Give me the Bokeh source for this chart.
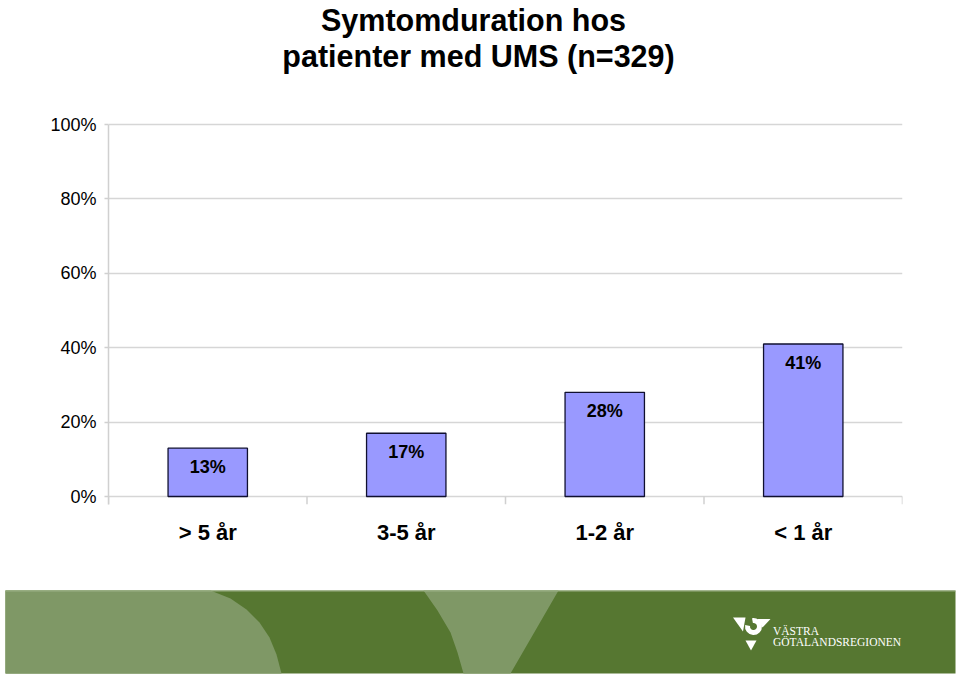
from bokeh.plotting import figure
from bokeh.layouts import column
from bokeh.models import Range1d, FixedTicker, NumeralTickFormatter
from bokeh.core.properties import value
from bokeh.embed import file_html
from bokeh.resources import INLINE

# ---- data ----
categories = ["> 5 år", "3-5 år", "1-2 år", "< 1 år"]
shares = [0.13, 0.17, 0.28, 0.41]
share_labels = ["13%", "17%", "28%", "41%"]
y_ticks = [0.0, 0.2, 0.4, 0.6, 0.8, 1.0]
title_lines = ["Symtomduration hos", "patienter med UMS (n=329)"]
logo_lines = ["VÄSTRA", "GÖTALANDSREGIONEN"]

FONT = value("Liberation Sans")
n = len(categories)
xs = [i + 0.5 for i in range(n)]

# ---- geometry of the chart area (pixels) ----
W, H = 959, 580
LEFT, RIGHT, BOTTOM = 108, 57, 76
zero_px, full_px = 496, 124
ppu = zero_px - full_px            # pixels per 100 %
frame_h = H - BOTTOM
y_start = -(frame_h - zero_px) / ppu
y_end = zero_px / ppu

def py(pix):
    return (zero_px - pix) / ppu

frame_w = W - LEFT - RIGHT
def px(pix):
    return (pix - LEFT) / frame_w * n

p = figure(width=W, height=H, output_backend="svg", toolbar_location=None,
           title=None,
           x_range=Range1d(0, n), y_range=Range1d(y_start, y_end),
           min_border_left=LEFT, min_border_right=RIGHT,
           min_border_top=0, min_border_bottom=BOTTOM)
p.frame_align = False
p.outline_line_color = None
p.background_fill_color = "white"
p.border_fill_color = "white"
p.xgrid.visible = False
p.ygrid.ticker = FixedTicker(ticks=y_ticks)
p.ygrid.grid_line_color = "#d6d6d6"
p.ygrid.grid_line_width = 1.5

# y axis
ya = p.yaxis[0]
ya.ticker = FixedTicker(ticks=y_ticks)
ya.formatter = NumeralTickFormatter(format="0%")
ya.bounds = (y_start, 1.0)
ya.axis_line_color = "#d0d0d0"
ya.axis_line_width = 1.5
ya.major_tick_line_color = "#d0d0d0"
ya.major_tick_line_width = 1.5
ya.major_tick_out = 4
ya.major_tick_in = 0
ya.minor_tick_line_color = None
ya.major_label_standoff = 8
ya.major_label_text_font = "Liberation Sans"
ya.major_label_text_font_size = "18px"
ya.major_label_text_color = "black"

# x axis
xa = p.xaxis[0]
xa.ticker = FixedTicker(ticks=xs)
xa.major_label_overrides = {x: c for x, c in zip(xs, categories)}
xa.axis_line_color = None
xa.major_tick_line_color = None
xa.minor_tick_line_color = None
xa.major_label_standoff = 9
xa.major_label_text_font = "Liberation Sans"
xa.major_label_text_font_style = "bold"
xa.major_label_text_font_size = "22px"
xa.major_label_text_color = "black"

# category separator ticks
p.segment(x0=list(range(n + 1)), x1=list(range(n + 1)),
          y0=[0] * (n + 1), y1=[y_start] * (n + 1),
          line_color="#d0d0d0", line_width=1.5)

# bars
p.vbar(x=xs, top=shares, bottom=0, width=0.4,
       fill_color="#9999FF", line_color="#101030", line_width=1.3)
p.text(x=xs, y=shares, text=share_labels, y_offset=19,
       text_align="center", text_baseline="middle",
       text_font=FONT, text_font_style="bold", text_font_size="18px",
       text_color="black")

# title
p.text(x=[px(473), px(478)], y=[py(19), py(55.5)], text=title_lines,
       text_align="center", text_baseline="alphabetic",
       text_font=FONT, text_font_style="bold", text_font_size="30.5px",
       text_color="black")

# ---- banner ----
b = figure(width=W, height=95, output_backend="svg", toolbar_location=None,
           title=None,
           x_range=Range1d(0, W), y_range=Range1d(675, 580),
           min_border=0)
b.frame_align = False
b.axis.visible = False
b.grid.visible = False
b.outline_line_color = None
b.border_fill_color = "white"
b.background_fill_color = "white"

dark = "#567731"
light = "#7f9866"
b.patch([5, 955, 955, 5], [590, 590, 673, 673], fill_color=dark, line_color=None)
b.patch([5, 210, 230, 246, 259, 269, 276, 281, 5],
        [590, 590, 598, 609, 622, 637, 654, 673, 673],
        fill_color=light, line_color=None)
b.patch([423, 558, 510, 463, 457, 450, 437],
        [590, 590, 673, 673, 652, 632, 610],
        fill_color=light, line_color=None)
b.line([5, 955], [590.5, 590.5], line_color="#9bb085", line_width=1)

# logo
b.patch([732.5, 745, 742.5], [617, 617, 631], fill_color="white", line_color=None)
b.patch([757, 770, 762], [618.5, 618.5, 627], fill_color="white", line_color=None)
b.patch([745, 756, 750.5], [640, 640, 650], fill_color="white", line_color=None)
b.annular_wedge(x=[753], y=[626], inner_radius=3.5, outer_radius=8.5,
                start_angle=2.97, end_angle=8.03, fill_color="white", line_color=None)
b.text(x=[772.5, 772.5], y=[630.5, 641], text=logo_lines,
       text_align="left", text_baseline="alphabetic",
       text_font=value("Liberation Serif"), text_font_size="11.5px",
       text_color="white")

layout = column(p, b, spacing=0)
open("out.html", "w").write(file_html(layout, INLINE))
